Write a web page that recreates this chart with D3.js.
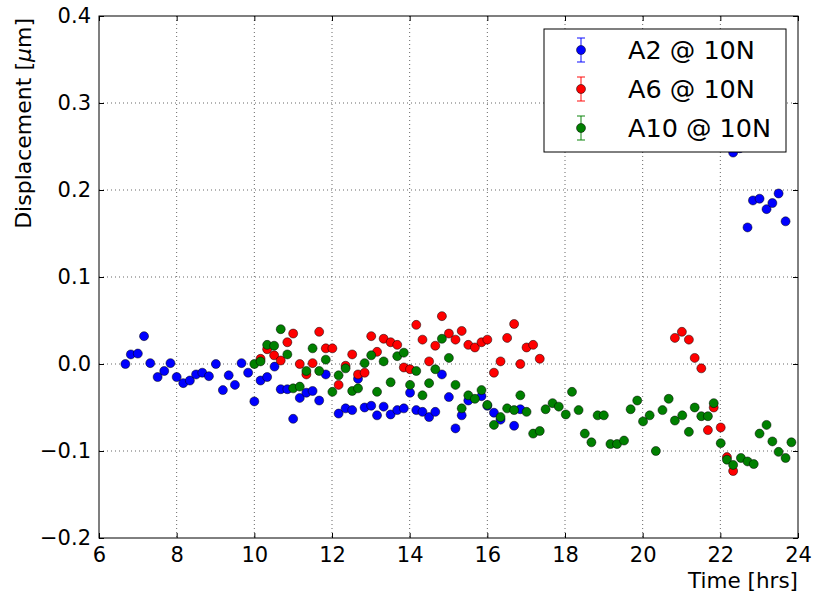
<!DOCTYPE html>
<html><head><meta charset="utf-8">
<script src="https://cdn.jsdelivr.net/npm/d3@7/dist/d3.min.js"></script>
<style>body{margin:0;background:#fff}svg{display:block;font-family:"DejaVu Sans",sans-serif}</style>
</head><body><svg id="c" width="813" height="598"></svg>
<script>
const xTicks=[6,8,10,12,14,16,18,20,22,24];
const yTicks=[-0.2,-0.1,0.0,0.1,0.2,0.3,0.4];
const seriesNames=["A2 @ 10N","A6 @ 10N","A10 @ 10N"];
const seriesColors=["#0000ff","#ff0000","#008000"];
const a2=[[6.68,0.0],[6.82,0.011],[7.0,0.012],[7.16,0.032],[7.32,0.001],[7.51,-0.015],[7.68,-0.008],[7.84,0.001],[8.0,-0.015],[8.17,-0.022],[8.34,-0.019],[8.5,-0.012],[8.66,-0.010],[8.83,-0.014],[9.01,0.0],[9.19,-0.030],[9.34,-0.013],[9.5,-0.024],[9.67,0.001],[9.84,-0.010],[10.0,-0.043],[10.16,-0.019],[10.33,-0.015],[10.52,-0.003],[10.68,-0.029],[10.85,-0.029],[11.0,-0.063],[11.17,-0.039],[11.34,-0.033],[11.5,-0.031],[11.67,-0.042],[11.84,-0.012],[12.17,-0.057],[12.35,-0.051],[12.52,-0.053],[12.67,-0.017],[12.84,-0.050],[13.01,-0.048],[13.16,-0.059],[13.33,-0.049],[13.51,-0.058],[13.68,-0.053],[13.85,-0.051],[14.01,-0.033],[14.17,-0.053],[14.33,-0.055],[14.5,-0.061],[14.66,-0.055],[14.83,-0.012],[15.01,-0.038],[15.18,-0.074],[15.34,-0.059],[15.51,-0.042],[15.85,-0.037],[16.0,-0.048],[16.17,-0.056],[16.34,-0.064],[16.69,-0.071],[16.85,-0.052],[22.33,0.243],[22.5,0.248],[22.7,0.157],[22.84,0.188],[23.01,0.190],[23.19,0.178],[23.34,0.185],[23.5,0.196],[23.68,0.164]];
const a6=[[10.16,0.006],[10.33,0.017],[10.51,0.010],[10.68,0.004],[10.85,0.025],[11.0,0.035],[11.17,0.0],[11.34,-0.012],[11.5,0.001],[11.67,0.037],[11.84,0.018],[12.01,0.018],[12.17,-0.024],[12.35,-0.002],[12.52,0.011],[12.67,-0.012],[12.84,-0.010],[13.01,0.032],[13.16,0.014],[13.33,0.029],[13.51,0.025],[13.68,0.022],[13.85,-0.004],[14.01,-0.006],[14.17,0.045],[14.33,0.028],[14.5,0.003],[14.66,0.021],[14.83,0.055],[15.01,0.035],[15.18,0.028],[15.34,0.038],[15.51,0.022],[15.68,0.019],[15.85,0.025],[16.0,0.028],[16.17,-0.010],[16.34,0.003],[16.51,0.030],[16.69,0.046],[16.85,0.0],[17.01,0.019],[17.18,0.022],[17.35,0.006],[20.83,0.030],[21.01,0.037],[21.19,0.028],[21.34,0.007],[21.51,-0.005],[21.68,-0.076],[21.83,-0.050],[22.01,-0.073],[22.17,-0.107],[22.33,-0.123]];
const a10=[[10.0,0.0],[10.16,0.003],[10.33,0.022],[10.51,0.021],[10.68,0.040],[10.85,0.011],[11.0,-0.028],[11.17,-0.026],[11.34,-0.008],[11.5,0.018],[11.67,-0.008],[11.84,0.005],[12.01,-0.032],[12.17,-0.013],[12.35,-0.005],[12.52,-0.031],[12.67,-0.028],[12.84,0.001],[13.01,0.010],[13.16,-0.032],[13.33,0.003],[13.51,-0.021],[13.68,0.009],[13.85,0.013],[14.01,-0.024],[14.17,-0.008],[14.33,-0.036],[14.5,-0.022],[14.66,-0.006],[14.83,0.029],[15.01,0.007],[15.18,-0.024],[15.34,-0.051],[15.51,-0.036],[15.68,-0.040],[15.85,-0.030],[16.0,-0.047],[16.17,-0.070],[16.34,-0.061],[16.51,-0.051],[16.69,-0.053],[16.85,-0.036],[17.01,-0.055],[17.18,-0.080],[17.35,-0.077],[17.5,-0.052],[17.68,-0.045],[17.84,-0.049],[18.02,-0.058],[18.18,-0.032],[18.35,-0.053],[18.51,-0.080],[18.68,-0.090],[18.84,-0.059],[19.0,-0.059],[19.17,-0.092],[19.34,-0.092],[19.52,-0.088],[19.69,-0.052],[19.86,-0.042],[20.01,-0.066],[20.18,-0.059],[20.34,-0.100],[20.51,-0.053],[20.67,-0.040],[20.83,-0.065],[21.02,-0.059],[21.19,-0.078],[21.34,-0.050],[21.51,-0.060],[21.68,-0.060],[21.83,-0.045],[22.01,-0.091],[22.17,-0.110],[22.33,-0.116],[22.53,-0.108],[22.7,-0.112],[22.86,-0.115],[23.01,-0.080],[23.19,-0.070],[23.34,-0.089],[23.5,-0.101],[23.68,-0.108],[23.83,-0.090]];
const series=[a2,a6,a10];

const L=99,T=16,W=699,H=522;
const svg=d3.select("#c");
const x=d3.scaleLinear().domain([6,24]).range([L,L+W]);
const y=d3.scaleLinear().domain([-0.2,0.4]).range([T+H,T]);
const g=svg.append("g");
// grid
g.selectAll(".gx").data(xTicks.slice(1,-1)).join("line").attr("x1",d=>x(d)).attr("x2",d=>x(d)).attr("y1",T).attr("y2",T+H)
 .attr("stroke","#000").attr("stroke-width",0.7).attr("stroke-dasharray","1,3").attr("opacity",0.85);
g.selectAll(".gy").data(yTicks.slice(1,-1)).join("line").attr("y1",d=>y(d)).attr("y2",d=>y(d)).attr("x1",L).attr("x2",L+W)
 .attr("stroke","#000").attr("stroke-width",0.7).attr("stroke-dasharray","1,3").attr("opacity",0.85);
// points
series.forEach((s,i)=>{
  g.append("g").selectAll("circle").data(s).join("circle")
   .attr("cx",d=>x(d[0])).attr("cy",d=>y(d[1])).attr("r",4.5)
   .attr("fill",seriesColors[i]).attr("stroke","#000").attr("stroke-width",0.5);
});
// axes
const fmtY=d=>d3.format(".1f")(d).replace("-","\u2212");
const ax=svg.append("g").attr("transform",`translate(0,${T+H})`).call(d3.axisBottom(x).tickValues(xTicks).tickSizeInner(-5).tickSizeOuter(0).tickPadding(9).tickFormat(d3.format("d")));
const axT=svg.append("g").attr("transform",`translate(0,${T})`).call(d3.axisTop(x).tickValues(xTicks).tickSizeInner(-5).tickSizeOuter(0).tickFormat(""));
const ay=svg.append("g").attr("transform",`translate(${L},0)`).call(d3.axisLeft(y).tickValues(yTicks).tickSizeInner(-5).tickSizeOuter(0).tickPadding(8).tickFormat(fmtY));
const ayR=svg.append("g").attr("transform",`translate(${L+W},0)`).call(d3.axisRight(y).tickValues(yTicks).tickSizeInner(-5).tickSizeOuter(0).tickFormat(""));
[ax,axT,ay,ayR].forEach(a=>{a.select(".domain").remove();a.selectAll("text").attr("font-size",21).attr("fill","#000").attr("font-family","DejaVu Sans");a.selectAll("line").attr("stroke","#000");});
ax.selectAll("text").attr("dy","0.71em");
svg.append("rect").attr("x",L).attr("y",T).attr("width",W).attr("height",H).attr("fill","none").attr("stroke","#000").attr("stroke-width",1);
// labels
svg.append("text").attr("x",L+W).attr("y",588).attr("text-anchor","end").attr("font-size",21.5).text("Time [hrs]");
const yl=svg.append("text").attr("transform",`translate(31,${T+2}) rotate(-90)`).attr("text-anchor","end").attr("font-size",22);
yl.append("tspan").text("Displacement [");
yl.append("tspan").attr("font-style","italic").text("\u03bc");
yl.append("tspan").text("m]");
// legend
const lg=svg.append("g");
lg.append("rect").attr("x",544).attr("y",29).attr("width",242).attr("height",123).attr("fill","#fff").attr("stroke","#000").attr("stroke-width",1);
seriesNames.forEach((n,i)=>{
  const cy=50+i*39;
  const e=lg.append("g").attr("stroke",seriesColors[i]).attr("stroke-opacity",0.8).attr("stroke-width",1.2);
  e.append("line").attr("x1",581).attr("x2",581).attr("y1",cy-12).attr("y2",cy+12);
  e.append("line").attr("x1",577).attr("x2",585).attr("y1",cy-12).attr("y2",cy-12);
  e.append("line").attr("x1",577).attr("x2",585).attr("y1",cy+12).attr("y2",cy+12);
  lg.append("circle").attr("cx",581).attr("cy",cy).attr("r",4.5).attr("fill",seriesColors[i]).attr("stroke","#000").attr("stroke-width",0.5);
  lg.append("text").attr("x",628).attr("y",cy).attr("dy","0.36em").attr("font-size",25.5).text(n);
});
</script></body></html>
